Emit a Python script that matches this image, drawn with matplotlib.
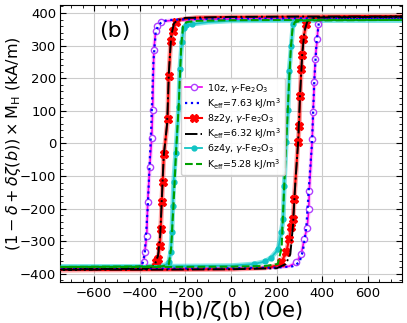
import matplotlib
matplotlib.use("Agg")
import matplotlib.pyplot as plt
import numpy as np
from matplotlib.ticker import MultipleLocator

# ---------------- data ----------------
# 10z, gamma-Fe2O3 : descending / ascending branches
h_10z_dn = [750, 500, 250, 0, -150, -250, -290, -308, -322, -330, -338, -343, -347,
            -356, -365, -369, -378, -382, -390, -420, -550, -750]
m_10z_dn = [383, 383, 382, 381, 380, 378, 375, 371, 360, 344, 288, 104, 18,
            -71, -180, -285, -334, -365, -377, -382, -384, -385]
h_10z_up = [-750, -500, -200, 0, 150, 220, 255, 286, 308, 321, 334, 341, 343,
            356, 360, 365, 369, 378, 382, 395, 450, 750]
m_10z_up = [-385, -385, -384, -383, -381, -379, -377, -365, -340, -294, -258, -202, -147,
            12, 95, 187, 258, 319, 365, 378, 382, 383]

# fit, Keff = 7.63 kJ/m3
h_fit1_dn = [750, 300, 0, -200, -280, -305, -320, -330, -340, -350, -365, -378, -390, -420, -750]
m_fit1_dn = [384, 384, 383, 381, 378, 372, 360, 340, 250, 40, -200, -340, -375, -383, -385]
h_fit1_up = [-750, -300, 0, 200, 270, 300, 315, 330, 342, 355, 365, 375, 385, 400, 750]
m_fit1_up = [-385, -384, -383, -381, -377, -365, -330, -260, -130, 0, 190, 310, 370, 380, 384]

# 8z2y, gamma-Fe2O3
h_8z2y_dn = [750, 400, 0, -150, -220, -242, -256, -264, -273, -277, -294, -299, -303,
             -308, -312, -321, -330, -345, -400, -750]
m_8z2y_dn = [390, 389, 388, 386, 380, 371, 345, 313, 206, 74, -34, -117, -181,
             -264, -316, -356, -365, -378, -385, -388]
h_8z2y_up = [-750, -400, 0, 150, 200, 220, 242, 255, 264, 272, 277, 294, 299,
             303, 308, 312, 316, 330, 345, 400, 750]
m_8z2y_up = [-388, -388, -386, -382, -375, -365, -334, -294, -255, -233, -172, 3, 52,
             144, 227, 270, 319, 365, 380, 388, 390]

# fit, Keff = 6.32 kJ/m3
h_fit2_dn = [750, 300, 0, -200, -235, -250, -262, -272, -280, -295, -310, -320, -335, -370, -750]
m_fit2_dn = [389, 389, 388, 385, 378, 368, 330, 220, 60, -40, -280, -345, -375, -384, -387]
h_fit2_up = [-750, -300, 0, 200, 240, 260, 272, 282, 294, 302, 312, 322, 335, 370, 750]
m_fit2_up = [-387, -387, -386, -383, -370, -340, -250, -120, 0, 140, 270, 345, 375, 386, 389]

# 6z4y, gamma-Fe2O3
h_6z4y_dn = [750, 400, 0, -100, -170, -195, -207, -215, -224, -229, -242, -251,
             -255, -259, -264, -273, -290, -350, -750]
m_6z4y_dn = [378, 378, 376, 372, 366, 362, 355, 310, 227, 113, -28, -117,
             -193, -273, -334, -365, -374, -377, -378]
h_6z4y_up = [-750, -300, 0, 100, 150, 176, 207, 220, 229, 233, 242, 250, 255,
             264, 272, 285, 350, 750]
m_6z4y_up = [-378, -377, -375, -370, -362, -350, -325, -273, -233, -132, 3, 104, 221,
             298, 365, 375, 378, 378]

# fit, Keff = 5.28 kJ/m3
h_fit3_dn = [750, 300, 0, -150, -195, -210, -218, -228, -240, -252, -262, -272, -300, -750]
m_fit3_dn = [379, 379, 378, 376, 372, 360, 300, 130, -20, -190, -320, -370, -377, -379]
h_fit3_up = [-750, -300, 0, 150, 205, 222, 232, 242, 252, 262, 270, 280, 320, 750]
m_fit3_up = [-379, -379, -378, -376, -370, -320, -150, 0, 150, 290, 355, 372, 377, 379]

# ---------------- plot ----------------
fig = plt.figure(figsize=(4.07, 3.23), dpi=100)
ax = fig.add_axes([0.147, 0.127, 0.841, 0.858])


def loop(hd, md, hu, mu):
    return np.array(hd + hu), np.array(md + mu)


def marks(m):
    return [i for i, v in enumerate(m) if abs(v) < 372]


h, m = loop(h_10z_dn, m_10z_dn, h_10z_up, m_10z_up)
ax.plot(h, m, color='#ff66ff', lw=3, alpha=0.35, zorder=2)
ax.plot(h, m, '-o', color='#ee00ee', lw=1.2, ms=4.5, mfc='white', mec='#b040ff',
        markevery=marks(m), label=r'10z, $\gamma$-Fe$_2$O$_3$', zorder=3)
h, m = loop(h_fit1_dn, m_fit1_dn, h_fit1_up, m_fit1_up)
ax.plot(h, m, ':', color='blue', lw=1.6, label=r'K$_{\rm eff}$=7.63 kJ/m$^3$', zorder=4)

h, m = loop(h_8z2y_dn, m_8z2y_dn, h_8z2y_up, m_8z2y_up)
ax.plot(h, m, color='red', lw=3.5, alpha=0.35, zorder=2)
ax.plot(h, m, '-X', color='red', lw=1.5, ms=6, markevery=marks(m),
        label=r'8z2y, $\gamma$-Fe$_2$O$_3$', zorder=3)
h, m = loop(h_fit2_dn, m_fit2_dn, h_fit2_up, m_fit2_up)
ax.plot(h, m, '-.', color='black', lw=1.4, label=r'K$_{\rm eff}$=6.32 kJ/m$^3$', zorder=4)

h, m = loop(h_6z4y_dn, m_6z4y_dn, h_6z4y_up, m_6z4y_up)
ax.plot(h, m, color='#00cccc', lw=3.5, alpha=0.5, zorder=2)
ax.plot(h, m, '-o', color='#11c4c4', lw=1.3, ms=3.5, markevery=marks(m),
        label=r'6z4y, $\gamma$-Fe$_2$O$_3$', zorder=3)
h, m = loop(h_fit3_dn, m_fit3_dn, h_fit3_up, m_fit3_up)
ax.plot(h, m, '--', color='#00a000', lw=1.5, label=r'K$_{\rm eff}$=5.28 kJ/m$^3$', zorder=4)

ax.set_xlim(-750, 750)
ax.set_ylim(-425, 425)
ax.xaxis.set_major_locator(MultipleLocator(200))
ax.xaxis.set_minor_locator(MultipleLocator(50))
ax.yaxis.set_major_locator(MultipleLocator(100))
ax.yaxis.set_minor_locator(MultipleLocator(20))
ax.tick_params(which='both', direction='in', top=True, right=True, labelsize=9.5)
ax.tick_params(axis='y', pad=2.5)
ax.tick_params(which='major', length=4)
ax.tick_params(which='minor', length=2)
ax.grid(True, which='major', color='#cccccc', lw=0.8)

ax.set_xlabel('H(b)/ζ(b) (Oe)', fontsize=15, labelpad=1)
ax.set_ylabel(r'$(1-\delta+\delta\zeta(b))\times$M$_\mathrm{H}$ (kA/m)', fontsize=11.5)
ax.yaxis.set_label_coords(-0.108, 0.5)
ax.text(0.16, 0.905, '(b)', transform=ax.transAxes, fontsize=16, ha='center', va='center')

ax.legend(loc='lower left', bbox_to_anchor=(0.355, 0.385), fontsize=6.8,
          handlelength=1.8, handletextpad=0.5, labelspacing=0.15, borderpad=0.4,
          borderaxespad=0, framealpha=0.9)

fig.savefig('out.png', dpi=100)
